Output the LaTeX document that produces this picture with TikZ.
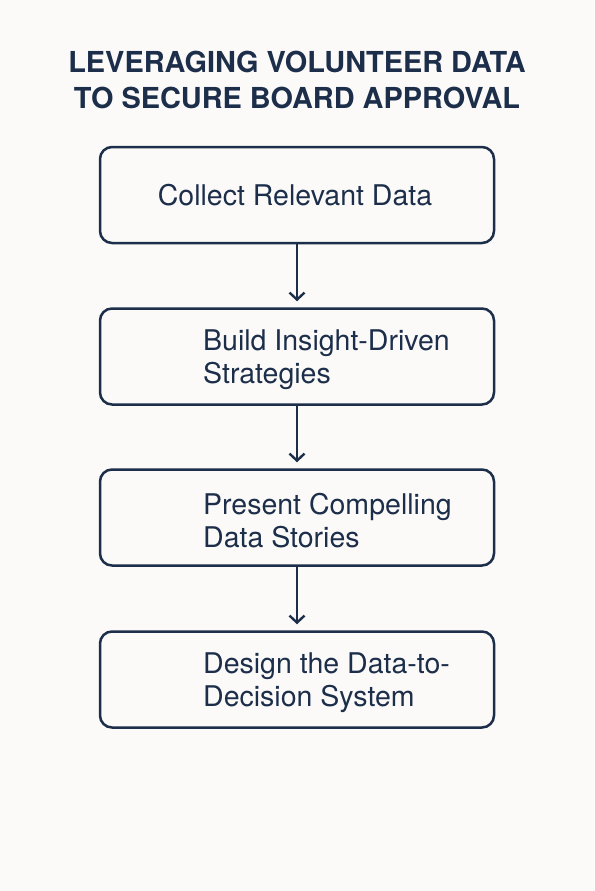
\documentclass[tikz,border=0pt]{standalone}
\usepackage{fontspec}
\setmainfont{TeX Gyre Heros}
\usetikzlibrary{arrows.meta}
\definecolor{navy}{HTML}{1C2E4A}
\definecolor{bg}{HTML}{FBFAF8}
\tikzset{
  stepbox/.style={draw=navy, line width=2.5pt, rounded corners=12pt, minimum width=394pt, minimum height=96pt, inner sep=0pt},
  boxtxt/.style={text=navy, font=\fontsize{28.5}{33}\selectfont, align=left, inner sep=0pt},
  flow/.style={draw=navy, line width=2.4pt, -{Straight Barb[length=7pt,width=15pt,line width=2.4pt]}, shorten >=6pt},
  titletxt/.style={text=navy, font=\fontsize{28.9}{36}\selectfont\bfseries, align=center, inner sep=0pt}
}
\begin{document}
\begin{tikzpicture}[x=1pt,y=-1pt]
\fill[bg] (0,0) rectangle (594,891);
\useasboundingbox (0,0) rectangle (594,891);
\node[titletxt] (title) at (297,80) {LEVERAGING VOLUNTEER DATA\\TO SECURE BOARD APPROVAL};
\node[stepbox] (b1) at (297,195) {};
\node[stepbox] (b2) at (297,356.5) {};
\node[stepbox] (b3) at (297,517.5) {};
\node[stepbox] (b4) at (297,679.5) {};
\node[boxtxt] (t1) at (295,195) {Collect Relevant Data};
\node[boxtxt, anchor=west] (t2) at (203,360) {Build Insight-Driven\\Strategies};
\node[boxtxt, anchor=west] (t3) at (203,521) {Present Compelling\\Data Stories};
\node[boxtxt, anchor=west] (t4) at (203,683) {Design the Data-to-\\Decision System};
\draw[flow] (b1.south) -- (b2.north);
\draw[flow] (b2.south) -- (b3.north);
\draw[flow] (b3.south) -- (b4.north);
\end{tikzpicture}
\end{document}
